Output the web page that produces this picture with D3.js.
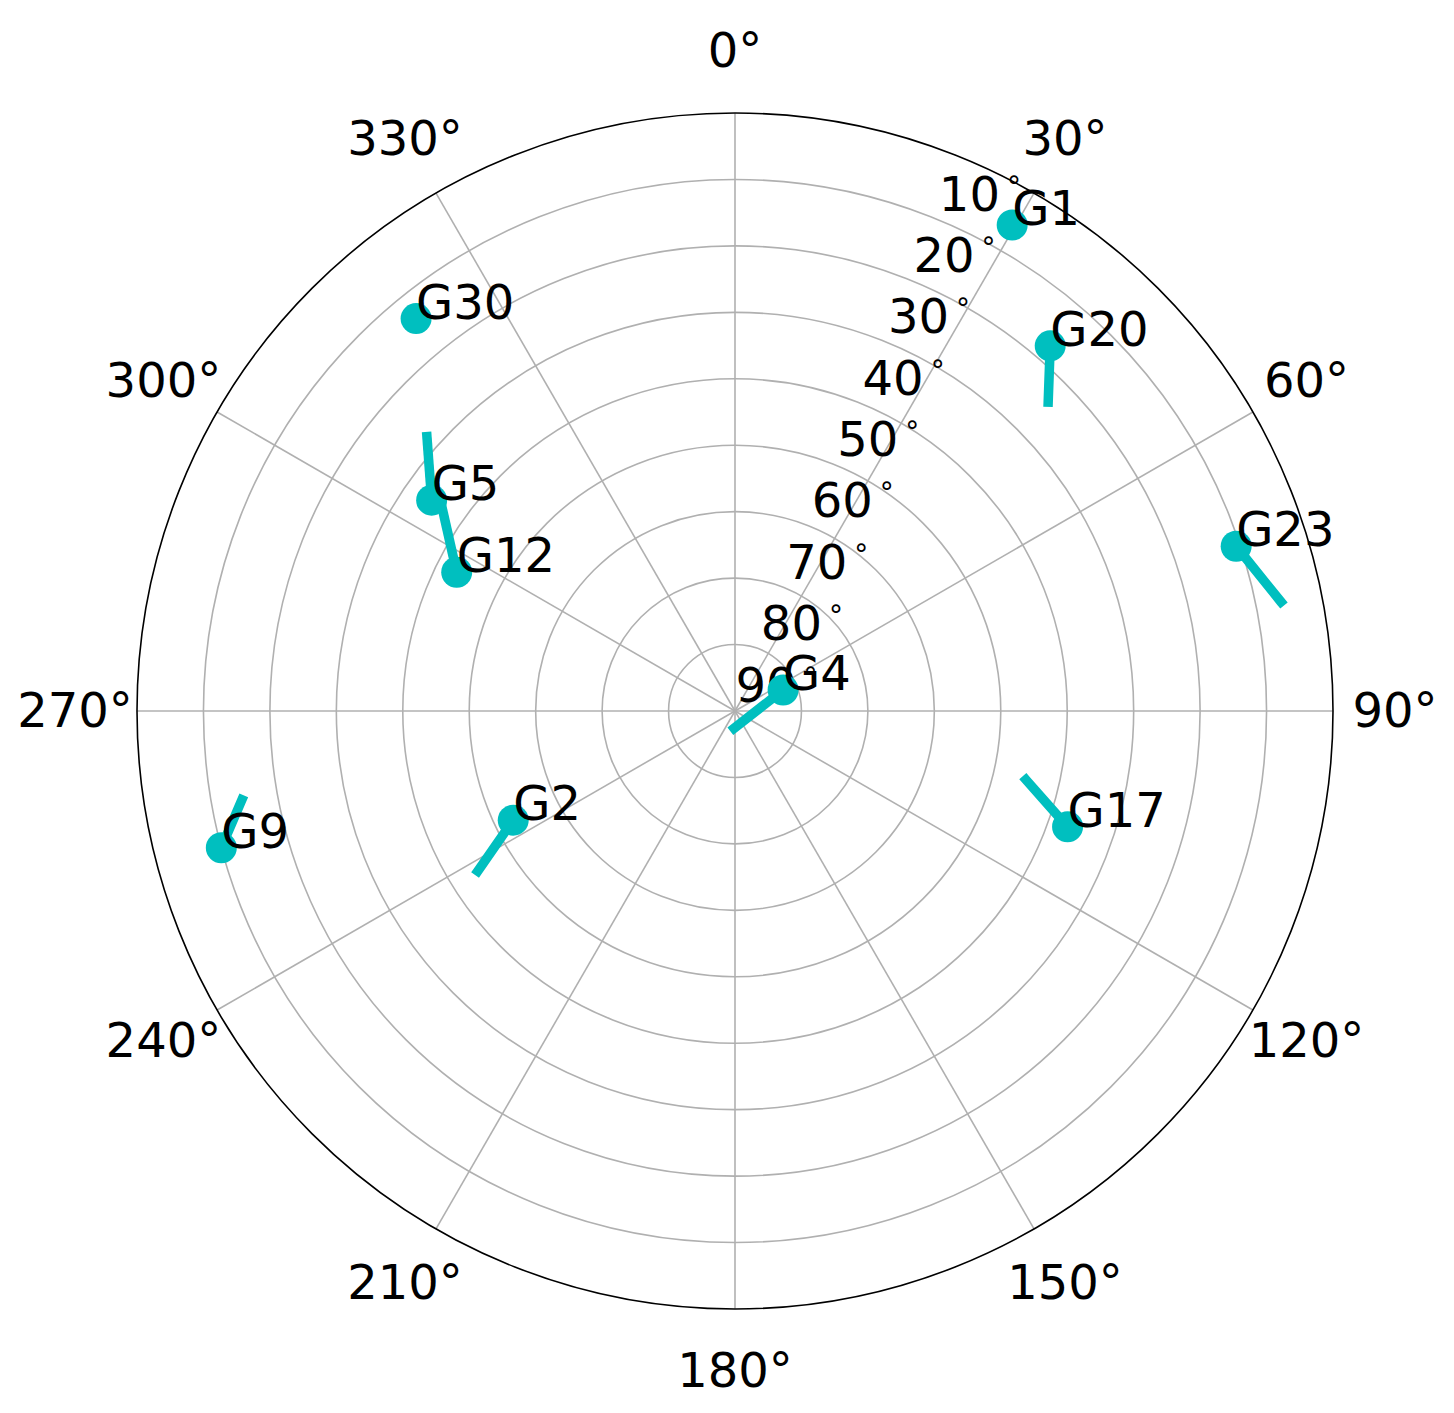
<!DOCTYPE html>
<html lang="en">
<head>
    <meta charset="utf-8">
    <title>Skyplot</title>
    <script src="https://cdnjs.cloudflare.com/ajax/libs/d3/7.8.5/d3.min.js"></script>
    <style>
        body { margin: 0; background: #fff; }
        svg { display: block; }
        text { font-family: "DejaVu Sans", sans-serif; fill: #000; }
    </style>
</head>
<body>
    <svg width="1454" height="1413"></svg>

    <script>
        // satellites: name, current azimuth / elevation, trail start azimuth / elevation
        const satNames = ["G1", "G20", "G23", "G4", "G17", "G2", "G9", "G12", "G5", "G30"];
        const satAz    = [29.7, 40.8, 71.8, 66.4, 109.2, 243.8, 255.1, 296.5, 304.8, 320.9];
        const satEl    = [5.8, 17.4, 10.6, 82.1, 37.0, 52.8, 10.0, 43.2, 34.4, 13.9];
        const trailAz  = [29.7, 45.4, 78.7, 183.0, 103.3, 238.1, 259.8, 304.9, 311.7, 320.9];
        const trailEl  = [5.8, 23.8, 6.2, 87.4, 45.0, 44.4, 14.6, 36.2, 27.9, 13.9];

        // grid ticks
        const thetaTicks = [0, 30, 60, 90, 120, 150, 180, 210, 240, 270, 300, 330];
        const ringEl = [0, 10, 20, 30, 40, 50, 60, 70, 80];
        const ringLabels = ["10", "20", "30", "40", "50", "60", "70", "80", "90"];

        const svg = d3.select("svg"),
              width = +svg.attr("width"),
              height = +svg.attr("height");

        const cx = 735, cy = 711, R = 598;
        const rScale = d3.scaleLinear().domain([90, 0]).range([0, R]);
        const rad = d => d * Math.PI / 180;

        function pos(az, el) {
            const r = rScale(el);
            return [cx + r * Math.sin(rad(az)), cy - r * Math.cos(rad(az))];
        }

        svg.append("rect").attr("width", width).attr("height", height).attr("fill", "#fff");

        const g = svg.append("g");

        // rings
        g.append("g").selectAll("circle")
            .data(ringEl.filter(d => d > 0))
            .enter().append("circle")
            .attr("cx", cx).attr("cy", cy)
            .attr("r", d => rScale(d))
            .attr("fill", "none")
            .attr("stroke", "#b0b0b0")
            .attr("stroke-width", 1.6);

        // spokes
        g.append("g").selectAll("line")
            .data(thetaTicks)
            .enter().append("line")
            .attr("x1", cx).attr("y1", cy)
            .attr("x2", d => pos(d, 0)[0])
            .attr("y2", d => pos(d, 0)[1])
            .attr("stroke", "#b0b0b0")
            .attr("stroke-width", 1.6);

        // outer spine
        g.append("circle")
            .attr("cx", cx).attr("cy", cy).attr("r", rScale(0))
            .attr("fill", "none")
            .attr("stroke", "#000")
            .attr("stroke-width", 1.6);

        // azimuth labels
        g.append("g").selectAll("text")
            .data(thetaTicks)
            .enter().append("text")
            .attr("x", d => cx + 660 * Math.sin(rad(d)))
            .attr("y", d => cy - 660 * Math.cos(rad(d)) + 16)
            .attr("text-anchor", "middle")
            .style("font-size", "48px")
            .text(d => d + "°");

        // elevation labels along 22.5°
        const rl = g.append("g").selectAll("text")
            .data(ringEl)
            .enter().append("text")
            .attr("x", d => pos(22.5, d)[0] - 25)
            .attr("y", d => pos(22.5, d)[1] + 52)
            .style("font-size", "48px");
        rl.append("tspan").text((d, i) => ringLabels[i]);
        rl.append("tspan")
            .attr("dx", 7).attr("dy", -15)
            .style("font-size", "28px")
            .text("°");

        // trails
        const line = d3.lineRadial()
            .angle(d => rad(d[0]))
            .radius(d => rScale(d[1]));

        g.append("g")
            .attr("transform", `translate(${cx},${cy})`)
            .selectAll("path")
            .data(satNames.map((n, i) => [[trailAz[i], trailEl[i]], [satAz[i], satEl[i]]]))
            .enter().append("path")
            .attr("d", line)
            .attr("fill", "none")
            .attr("stroke", "#00bfbf")
            .attr("stroke-width", 9.5)
            .attr("stroke-linecap", "square");

        // satellite dots
        g.append("g").selectAll("circle")
            .data(satNames)
            .enter().append("circle")
            .attr("cx", (d, i) => pos(satAz[i], satEl[i])[0])
            .attr("cy", (d, i) => pos(satAz[i], satEl[i])[1])
            .attr("r", 15.5)
            .attr("fill", "#00bfbf");

        // satellite names
        g.append("g").selectAll("text")
            .data(satNames)
            .enter().append("text")
            .attr("x", (d, i) => pos(satAz[i], satEl[i])[0])
            .attr("y", (d, i) => pos(satAz[i], satEl[i])[1])
            .style("font-size", "48px")
            .text(d => d);
    </script>
</body>
</html>
